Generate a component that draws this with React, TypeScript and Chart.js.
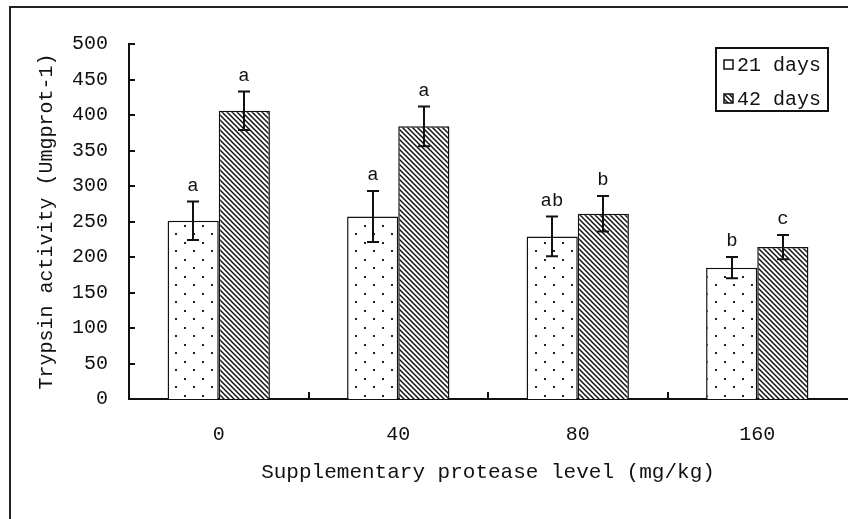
import { useEffect, useRef } from 'react';
import { Chart, registerables } from 'chart.js';

Chart.register(...registerables);

// ---- data ----
const categories = ['0', '40', '80', '160'];
const seriesLabels = ['21 days', '42 days'];
const days21 = [251, 257, 229, 185];
const days21Err = [27, 36, 28, 15];
const days42 = [406, 384, 261, 214];
const days42Err = [27, 28, 25, 17];
const letters21 = ['a', 'a', 'ab', 'b'];
const letters42 = ['a', 'a', 'b', 'c'];
const yMin = 0;
const yMax = 500;
const yStep = 50;
const xTitle = 'Supplementary protease level (mg/kg)';
const yTitle = 'Trypsin activity (Umgprot-1)';

const FONT = "'Liberation Mono', 'DejaVu Sans Mono', monospace";

function makeDots(): CanvasPattern | string {
  const c = document.createElement('canvas');
  c.width = 18;
  c.height = 17;
  const g = c.getContext('2d');
  if (!g) return '#fff';
  g.fillStyle = '#fff';
  g.fillRect(0, 0, 18, 17);
  g.fillStyle = '#222';
  g.fillRect(4, 4, 2, 2);
  g.fillRect(13, 12, 2, 2);
  return g.createPattern(c, 'repeat') || '#fff';
}

function makeHatch(): CanvasPattern | string {
  const s = 5;
  const c = document.createElement('canvas');
  c.width = s;
  c.height = s;
  const g = c.getContext('2d');
  if (!g) return '#888';
  g.fillStyle = '#fff';
  g.fillRect(0, 0, s, s);
  g.strokeStyle = '#111';
  g.lineWidth = 1.5;
  for (const k of [-s, 0, s]) {
    g.beginPath();
    g.moveTo(k - 1, -1);
    g.lineTo(k + s + 1, s + 1);
    g.stroke();
  }
  return g.createPattern(c, 'repeat') || '#888';
}

export default function App() {
  const ref = useRef<HTMLCanvasElement>(null);

  useEffect(() => {
    if (!ref.current) return;
    const dots = makeDots();
    const hatch = makeHatch();
    const errs = [days21Err, days42Err];
    const lets = [letters21, letters42];
    const fills = [dots, hatch];

    const decor = {
      id: 'decor',
      beforeDraw(chart: any) {
        const { ctx, width, height } = chart;
        ctx.save();
        ctx.fillStyle = '#fff';
        ctx.fillRect(0, 0, width, height);
        ctx.strokeStyle = '#222';
        ctx.lineWidth = 2;
        ctx.beginPath();
        ctx.moveTo(10, height + 5);
        ctx.lineTo(10, 7);
        ctx.lineTo(width + 5, 7);
        ctx.stroke();
        ctx.restore();
      },
      afterDatasetsDraw(chart: any) {
        const { ctx } = chart;
        const xs = chart.scales.x;
        const ys = chart.scales.y;
        ctx.save();
        ctx.strokeStyle = '#111';
        ctx.lineWidth = 2;
        // inward y ticks
        ys.ticks.forEach((t: any) => {
          const py = Math.round(ys.getPixelForValue(t.value));
          ctx.beginPath();
          ctx.moveTo(ys.right, py);
          ctx.lineTo(ys.right + 6, py);
          ctx.stroke();
        });
        // inward x ticks at category boundaries
        for (let i = 0; i < categories.length - 1; i++) {
          const px = Math.round((xs.getPixelForValue(i) + xs.getPixelForValue(i + 1)) / 2);
          ctx.beginPath();
          ctx.moveTo(px, xs.top);
          ctx.lineTo(px, xs.top - 7);
          ctx.stroke();
        }
        // error bars + letters
        ctx.font = `19px ${FONT}`;
        ctx.fillStyle = '#111';
        ctx.textAlign = 'center';
        ctx.textBaseline = 'middle';
        chart.data.datasets.forEach((ds: any, d: number) => {
          const meta = chart.getDatasetMeta(d);
          meta.data.forEach((bar: any, i: number) => {
            const v = ds.data[i];
            const e = errs[d][i];
            const x = Math.round(bar.x);
            const yt = ys.getPixelForValue(v + e);
            const yb = ys.getPixelForValue(v - e);
            ctx.beginPath();
            ctx.moveTo(x, yt);
            ctx.lineTo(x, yb);
            ctx.moveTo(x - 6, yt);
            ctx.lineTo(x + 6, yt);
            ctx.moveTo(x - 6, yb);
            ctx.lineTo(x + 6, yb);
            ctx.stroke();
            ctx.fillText(lets[d][i], x, yt - 16);
          });
        });
        ctx.restore();
      },
      afterDraw(chart: any) {
        const { ctx } = chart;
        ctx.save();
        ctx.strokeStyle = '#111';
        ctx.lineWidth = 2;
        ctx.strokeRect(716, 48, 112, 63);
        const rows = [65, 99];
        ctx.font = `20px ${FONT}`;
        ctx.textAlign = 'left';
        ctx.textBaseline = 'middle';
        seriesLabels.forEach((lab, k) => {
          const cy = rows[k];
          ctx.fillStyle = fills[k] as any;
          ctx.fillRect(724, cy - 5, 9, 9);
          ctx.lineWidth = 1.5;
          ctx.strokeRect(724, cy - 5, 9, 9);
          ctx.fillStyle = '#111';
          ctx.fillText(lab, 737, cy + 1);
        });
        ctx.restore();
      },
    };

    const chart = new Chart(ref.current, {
      type: 'bar',
      data: {
        labels: categories,
        datasets: [
          {
            label: seriesLabels[0],
            data: days21,
            backgroundColor: dots as any,
            borderColor: '#111',
            borderWidth: 1.5,
            borderSkipped: 'bottom',
          },
          {
            label: seriesLabels[1],
            data: days42,
            backgroundColor: hatch as any,
            borderColor: '#111',
            borderWidth: 1.5,
            borderSkipped: 'bottom',
          },
        ],
      },
      options: {
        responsive: false,
        animation: false,
        events: [],
        layout: { padding: { left: 0, right: 1, top: 44, bottom: 0 } },
        datasets: { bar: { categoryPercentage: 0.57, barPercentage: 1 } },
        plugins: { legend: { display: false }, tooltip: { enabled: false } },
        scales: {
          x: {
            grid: { display: false, drawTicks: false },
            border: { display: true, color: '#111', width: 2 },
            ticks: { color: '#111', font: { family: FONT, size: 20 }, padding: 24 },
            title: {
              display: true,
              text: xTitle,
              color: '#111',
              font: { family: FONT, size: 21 },
              padding: { top: 0, bottom: 34 },
            },
            afterFit(scale: any) {
              scale.height = 120;
            },
          },
          y: {
            min: yMin,
            max: yMax,
            grid: { display: false, drawTicks: false },
            border: { display: true, color: '#111', width: 2 },
            ticks: { stepSize: yStep, color: '#111', font: { family: FONT, size: 20 }, padding: 21 },
            title: {
              display: true,
              text: yTitle,
              color: '#111',
              font: { family: FONT, size: 20 },
              padding: { top: 35, bottom: 0 },
            },
            afterFit(scale: any) {
              scale.width = 129;
            },
          },
        },
      },
      plugins: [decor],
    });
    return () => chart.destroy();
  }, []);

  return (
    <div style={{ position: 'absolute', left: 0, top: 0, width: 848, height: 519 }}>
      <canvas ref={ref} width={848} height={519} />
    </div>
  );
}
